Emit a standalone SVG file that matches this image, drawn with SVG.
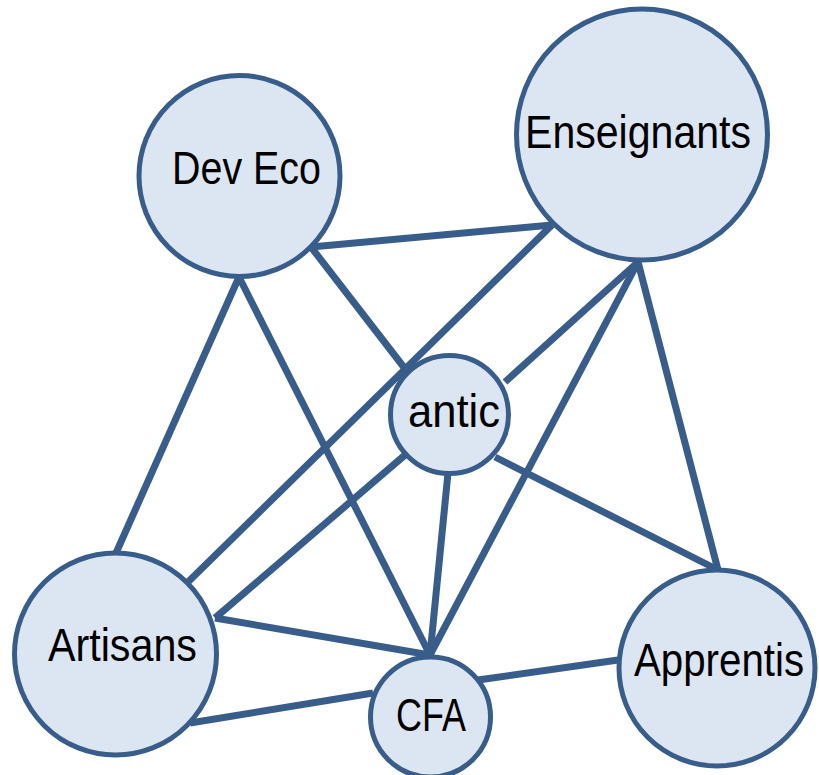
<svg xmlns="http://www.w3.org/2000/svg" width="819" height="775" viewBox="0 0 819 775">
  <style>
    .edge { stroke: #385D8A; stroke-width: 7; stroke-linecap: butt; fill: none; }
    .node circle { fill: #DCE6F2; stroke: #385D8A; stroke-width: 5; }
    .node text { font-family: "Liberation Sans", Arial, sans-serif; font-size: 47px; fill: #000; }
  </style>
  <rect width="819" height="775" fill="#FFFFFF"/>

  <g id="connectors">
    <line class="edge" x1="311" y1="247" x2="552" y2="225"/>
    <line class="edge" x1="311" y1="247" x2="406" y2="370"/>
    <line class="edge" x1="239" y1="277" x2="116" y2="553"/>
    <line class="edge" x1="239" y1="277" x2="430" y2="655"/>
    <line class="edge" x1="505" y1="382" x2="638" y2="262"/>
    <line class="edge" x1="188" y1="582" x2="552" y2="225"/>
    <line class="edge" x1="430" y1="655" x2="638" y2="262"/>
    <line class="edge" x1="638" y1="262" x2="718" y2="570"/>
    <line class="edge" x1="215" y1="618" x2="405" y2="455"/>
    <line class="edge" x1="448" y1="473" x2="430" y2="655"/>
    <line class="edge" x1="495" y1="457" x2="718" y2="570"/>
    <line class="edge" x1="215" y1="618" x2="430" y2="655"/>
    <line class="edge" x1="190" y1="723" x2="373" y2="693"/>
    <line class="edge" x1="478" y1="680" x2="618" y2="660"/>
  </g>

  <g id="dev-eco" class="node">
    <circle cx="239.5" cy="176" r="100.5"/>
    <text x="172" y="184" textLength="149" lengthAdjust="spacingAndGlyphs">Dev Eco</text>
  </g>
  <g id="enseignants" class="node">
    <circle cx="642" cy="134.5" r="125.5"/>
    <text x="525" y="148" textLength="226" lengthAdjust="spacingAndGlyphs">Enseignants</text>
  </g>
  <g id="antic" class="node">
    <circle cx="449.5" cy="414.5" r="59"/>
    <text x="408" y="427" textLength="92" lengthAdjust="spacingAndGlyphs">antic</text>
  </g>
  <g id="artisans" class="node">
    <circle cx="115.5" cy="654" r="101"/>
    <text x="48" y="661" textLength="149" lengthAdjust="spacingAndGlyphs">Artisans</text>
  </g>
  <g id="apprentis" class="node">
    <circle cx="717" cy="668" r="98"/>
    <text x="634" y="676" textLength="170" lengthAdjust="spacingAndGlyphs">Apprentis</text>
  </g>
  <g id="cfa" class="node">
    <circle cx="430.5" cy="717" r="60"/>
    <text x="396" y="731" textLength="70" lengthAdjust="spacingAndGlyphs">CFA</text>
  </g>
</svg>
